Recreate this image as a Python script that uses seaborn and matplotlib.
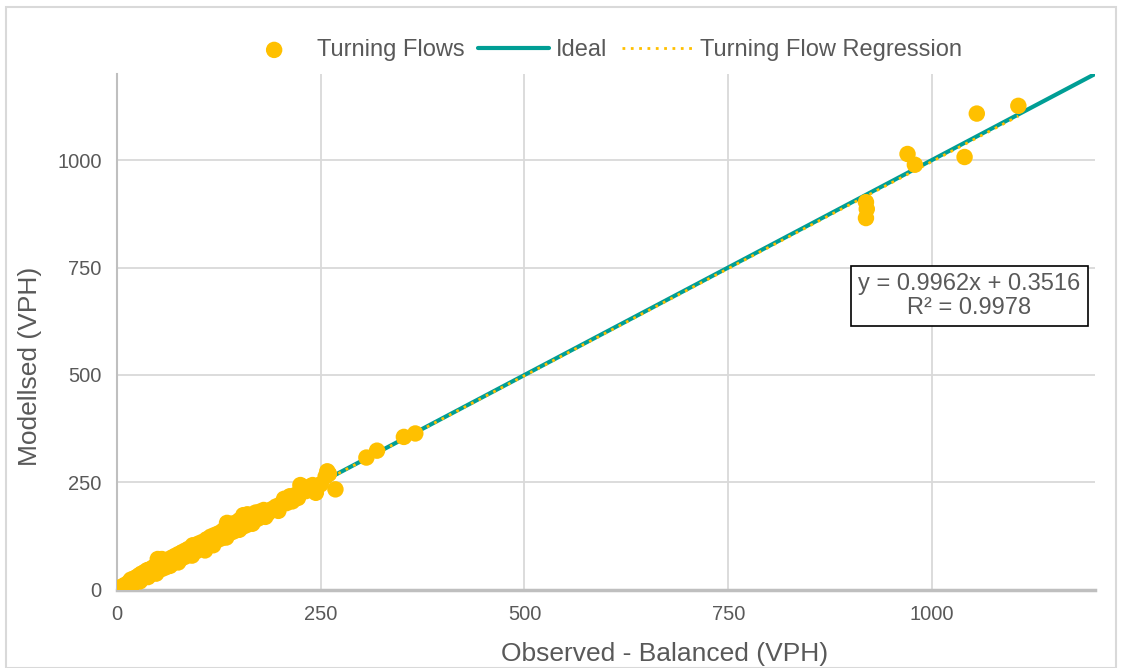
import seaborn as sns
import matplotlib.pyplot as plt
import pandas as pd
from matplotlib.patches import Rectangle

# observed (balanced) vs modelled turning flows
observed = [0, 1, 2, 3, 5, 6, 8, 10, 12, 14, 15, 17, 19, 20, 22, 24, 25, 27, 29, 30,
            32, 34, 35, 37, 39, 40, 42, 44, 45, 47, 49, 50, 52, 54, 55, 57, 59, 60, 62, 64,
            66, 68, 70, 72, 74, 76, 78, 80, 82, 84, 86, 88, 90, 93, 95, 97, 100, 102, 105, 108,
            110, 112, 115, 118, 120, 123, 125, 128, 130, 133, 135, 138, 140, 143, 145, 148, 150, 153, 155, 158,
            160, 163, 165, 168, 170, 173, 175, 178, 180, 185, 190, 195, 200, 205, 208, 212, 215, 220, 222, 225,
            228, 232, 236, 240, 244, 246, 250, 256, 258, 260, 268, 306, 319, 352, 366,
            919, 920, 919, 970, 979, 1040, 1055, 1106,
            4, 18, 28, 38, 48, 65, 75, 92, 104, 118, 134, 150, 166, 182, 198]
modelled = [0, 2, 1, 4, 3, 8, 6, 12, 9, 17, 13, 24, 15, 26, 19, 30, 22, 34, 26, 38,
            28, 42, 31, 46, 35, 48, 38, 52, 40, 56, 44, 72, 58, 48, 72, 62, 52, 68, 58, 72,
            60, 76, 64, 80, 68, 84, 72, 88, 76, 92, 80, 96, 84, 104, 100, 90, 108, 96, 112, 92,
            118, 106, 124, 110, 128, 116, 132, 120, 138, 126, 156, 132, 154, 136, 156, 140, 162, 146, 174, 150,
            176, 156, 170, 160, 180, 166, 182, 172, 186, 178, 188, 194, 198, 212, 202, 218, 206, 222, 214, 244,
            238, 230, 240, 244, 226, 240, 246, 264, 276, 270, 234, 308, 324, 356, 364,
            902, 886, 865, 1014, 989, 1007, 1108, 1126,
            -2, 10, 20, 30, 38, 56, 64, 80, 96, 104, 122, 140, 154, 170, 184]

ideal_x = [0, 1200]
ideal_y = [0, 1200]

slope = 0.9962
intercept = 0.3516
r2 = 0.9978

df = pd.DataFrame({'obs': observed, 'mod': modelled})
reg = pd.DataFrame({'x': [0, max(observed)]})
reg['y'] = slope * reg['x'] + intercept

sns.set_style('white')
plt.rcParams['font.family'] = ['Liberation Sans', 'DejaVu Sans']

fig = plt.figure(figsize=(11.22, 6.68), dpi=100)
ax = fig.add_axes([0.1043, 0.1168, 0.8716, 0.7724])

gold = '#FFC000'
teal = '#009E95'
grey = '#595959'

sns.lineplot(x=ideal_x, y=ideal_y, ax=ax, color=teal, linewidth=3, label='Ideal', zorder=3)
sns.lineplot(data=reg, x='x', y='y', ax=ax, color=gold, linewidth=2, linestyle=(0, (1, 2)),
             label='Turning Flow Regression', zorder=4)
sns.scatterplot(data=df, x='obs', y='mod', ax=ax, color=gold, s=140, edgecolor='none',
                label='Turning Flows', zorder=5)

ax.set_xlim(0, 1200)
ax.set_ylim(0, 1200)
ax.set_xticks([0, 250, 500, 750, 1000])
ax.set_yticks([0, 250, 500, 750, 1000])
ax.grid(True, color='#D9D9D9', linewidth=1.3)
ax.set_axisbelow(True)
for s in ['top', 'right']:
    ax.spines[s].set_visible(False)
ax.spines['bottom'].set_color('#BFBFBF')
ax.spines['bottom'].set_linewidth(2.5)
ax.spines['left'].set_color('#BFBFBF')
ax.spines['left'].set_linewidth(1.5)
ax.tick_params(length=0, labelsize=14.5, labelcolor=grey, pad=11)
ax.set_xlabel('Observed - Balanced (VPH)', fontsize=19, color=grey)
ax.set_ylabel('Modellsed (VPH)', fontsize=19, color=grey)
# label positions offset like in the original
ax.xaxis.set_label_coords(0.56, -0.1)
ax.yaxis.set_label_coords(-0.077, 0.434)

ax.text(1046, 683, f'y = {slope}x + {intercept}\nR² = {r2}', ha='center', va='center',
        fontsize=17, color=grey, linespacing=1.1,
        bbox=dict(boxstyle='square,pad=0.3', facecolor='white', edgecolor='black', linewidth=1.2),
        zorder=6)

h, l = ax.get_legend_handles_labels()
order = [2, 0, 1]
ax.get_legend().remove()
fig.legend([h[i] for i in order], [l[i] for i in order], loc='center', bbox_to_anchor=(0.535, 0.925),
           ncol=3, frameon=False, fontsize=17, labelcolor=grey, handlelength=3.0,
           handletextpad=0.3, columnspacing=0.6, markerscale=1.0)

fig.patches.append(Rectangle((0.005, 0.0), 0.99, 0.99, transform=fig.transFigure, fill=False,
                             edgecolor='#D9D9D9', linewidth=1.5))

fig.savefig('out.png', dpi=100)
